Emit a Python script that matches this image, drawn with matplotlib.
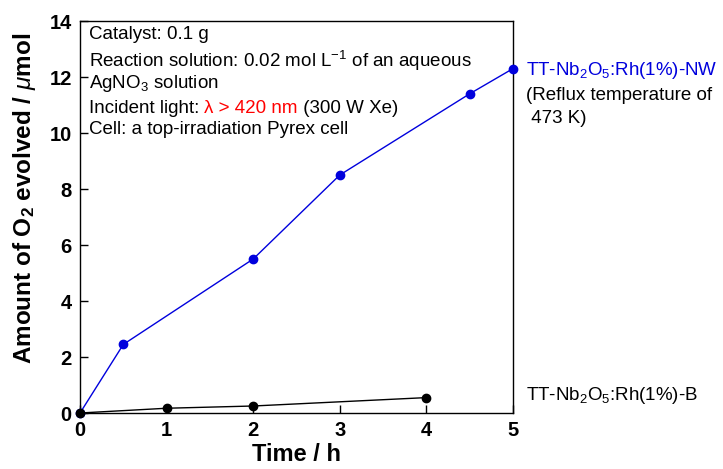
import matplotlib
matplotlib.use('Agg')
import matplotlib.pyplot as plt

plt.rcParams['font.family'] = ['Liberation Sans', 'DejaVu Sans']
plt.rcParams['mathtext.fontset'] = 'custom'
plt.rcParams['mathtext.rm'] = 'Liberation Sans'
plt.rcParams['mathtext.it'] = 'Liberation Sans:italic'
plt.rcParams['mathtext.bf'] = 'Liberation Sans:bold'

# data
t_nw = [0, 0.5, 2, 3, 4.5, 5]
o2_nw = [0, 2.45, 5.5, 8.5, 11.4, 12.3]
t_b = [0, 1, 2, 4]
o2_b = [0, 0.17, 0.25, 0.55]

x_ticks = [0, 1, 2, 3, 4, 5]
y_ticks = [0, 2, 4, 6, 8, 10, 12, 14]

fig = plt.figure(figsize=(7.23, 4.69), dpi=100)
ax = fig.add_axes([0.1107, 0.1194, 0.5988, 0.8358])

ax.plot(t_nw, o2_nw, '-o', color='#0000dd', lw=1, markersize=6, clip_on=False, zorder=3)
ax.plot(t_b, o2_b, '-o', color='black', lw=1, markersize=6, clip_on=False, zorder=3)

ax.set_xlim(0, 5)
ax.set_ylim(0, 14)
ax.set_xticks(x_ticks)
ax.set_yticks(y_ticks)
ax.tick_params(direction='in', length=6, width=1, labelsize=14.5, pad=6)
for lab in ax.get_xticklabels() + ax.get_yticklabels():
    lab.set_fontweight('bold')
for s in ax.spines.values():
    s.set_linewidth(1)

ax.set_xlabel('Time / h', fontsize=17, fontweight='bold', labelpad=2)
ax.set_ylabel(r'Amount of O$_\mathbf{2}$ evolved / $\mu$mol', fontsize=17.5,
              fontweight='bold')
ax.yaxis.set_label_coords(-0.097, 0.548)

# conditions box text (baselines)
fs = 13.5
kw = dict(transform=ax.transAxes, fontsize=fs, va='baseline')
ax.text(0.02, 0.954, 'Catalyst: 0.1 g', **kw)
ax.text(0.02, 0.883, 'Reaction solution: 0.02 mol L$^{-1}$ of an aqueous', **kw)
ax.text(0.02, 0.829, 'AgNO$_3$ solution', **kw)
t1 = ax.text(0.02, 0.765, 'Incident light: ', **kw)
t2 = ax.annotate('λ > 420 nm', xy=(1, 0), xycoords=t1, va='bottom', fontsize=fs, color='red')
ax.annotate(' (300 W Xe)', xy=(1, 0), xycoords=t2, va='bottom', fontsize=fs)
ax.text(0.02, 0.712, 'Cell: a top-irradiation Pyrex cell', **kw)

# series labels on the right
ax.text(1.03, 0.862, r'TT-Nb$_2$O$_5$:Rh(1%)-NW', color='#0000dd', **kw)
ax.text(1.03, 0.798, '(Reflux temperature of', **kw)
ax.text(1.03, 0.740, ' 473 K)', **kw)
ax.text(1.03, 0.033, r'TT-Nb$_2$O$_5$:Rh(1%)-B', **kw)

fig.savefig('out.png', dpi=100)
